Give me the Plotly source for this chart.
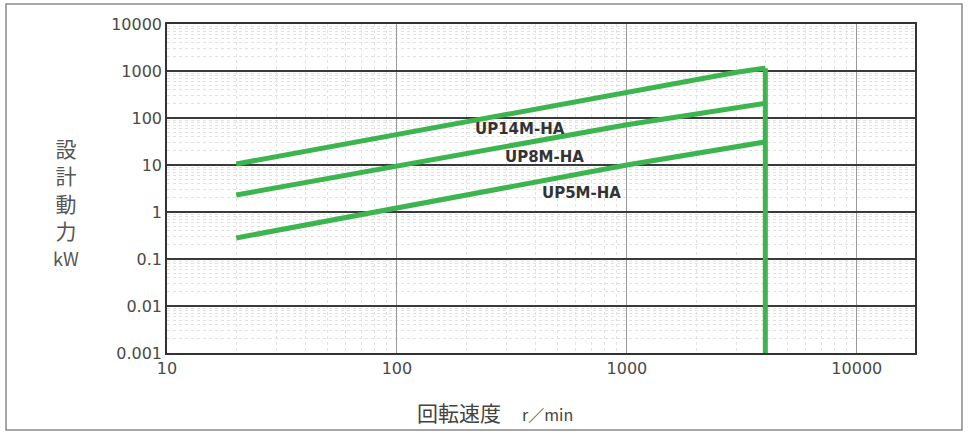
import plotly.graph_objects as go

# Data (log-log chart)
speed_14m = [20, 1000, 3000, 4000]
power_14m = [10.5, 360, 940, 1150]

speed_8m = [20, 1000, 4000]
power_8m = [2.3, 72, 205]

speed_5m = [20, 1000, 4000]
power_5m = [0.28, 10, 31]

limit_speed = [4000, 4000]
limit_power = [1150, 0.001]

x_ticks = [10, 100, 1000, 10000]
x_tick_labels = ["10", "100", "1000", "10000"]
y_ticks = [0.001, 0.01, 0.1, 1, 10, 100, 1000, 10000]
y_tick_labels = ["0.001", "0.01", "0.1", "1", "10", "100", "1000", "10000"]

series_names = ["UP14M-HA", "UP8M-HA", "UP5M-HA"]

GREEN = "#3DB54E"
LW = 5

fig = go.Figure()
for xs, ys, name in [(speed_14m, power_14m, series_names[0]),
                     (speed_8m, power_8m, series_names[1]),
                     (speed_5m, power_5m, series_names[2])]:
    fig.add_trace(go.Scatter(x=xs, y=ys, mode="lines", name=name,
                             line=dict(color=GREEN, width=LW), showlegend=False))
fig.add_trace(go.Scatter(x=limit_speed, y=limit_power, mode="lines",
                         line=dict(color=GREEN, width=LW), showlegend=False,
                         cliponaxis=False))

tick_font = dict(family="DejaVu Sans, sans-serif", size=16, color="#4a4a4a")

fig.update_xaxes(type="log", range=[1, 4.253], tickvals=x_ticks, ticktext=x_tick_labels,
                 showgrid=True, gridcolor="#9a9a9a", gridwidth=1,
                 minor=dict(dtick="D1", showgrid=True, gridcolor="#e2e2e2", griddash="dot", gridwidth=1),
                 showline=True, linecolor="#333", linewidth=1.5, mirror=True,
                 ticks="", tickfont=tick_font, zeroline=False)
fig.update_yaxes(type="log", range=[-3, 4], tickvals=y_ticks, ticktext=y_tick_labels,
                 showgrid=True, gridcolor="#3a3a3a", gridwidth=1.5,
                 minor=dict(dtick="D1", showgrid=True, gridcolor="#e2e2e2", griddash="dot", gridwidth=1),
                 showline=True, linecolor="#333", linewidth=1.5, mirror=True,
                 ticks="", tickfont=tick_font, zeroline=False)

label_font = dict(family="DejaVu Sans, sans-serif", size=15, color="#333")
for name, lx, ly in [(series_names[0], 2.534, 1.766),
                     (series_names[1], 2.643, 1.17),
                     (series_names[2], 2.804, 0.404)]:
    fig.add_annotation(x=lx, y=ly, xref="x", yref="y", text="<b>%s</b>" % name,
                       showarrow=False, font=label_font)

fig.add_annotation(xref="paper", yref="paper", x=-0.135, y=0.46, xanchor="center",
                   text="設<br>計<br>動<br>力<br><span style='font-size:18px'>kW</span>",
                   showarrow=False, align="center",
                   font=dict(family="Noto Sans CJK JP, sans-serif", size=21, color="#555"))

fig.add_annotation(xref="paper", yref="paper", x=0.4385, y=-0.18, xanchor="center",
                   yanchor="middle",
                   text="回転速度　<span style='font-size:16px'>r／min</span>",
                   showarrow=False,
                   font=dict(family="Noto Sans CJK JP, sans-serif", size=21, color="#444"))

# outer frame
fig.add_shape(type="rect", xref="paper", yref="paper",
              x0=(6 - 167) / 748, x1=(962 - 167) / 748,
              y0=(353 - 430) / 329, y1=(353 - 4) / 329,
              line=dict(color="#8a8a8a", width=1.5), layer="below")

fig.update_layout(width=972, height=437,
                  margin=dict(l=167, r=57, t=24, b=84),
                  paper_bgcolor="white", plot_bgcolor="white")

fig.write_html("out.html", config={"displayModeBar": False},
               post_script="document.body.style.margin='0';")
